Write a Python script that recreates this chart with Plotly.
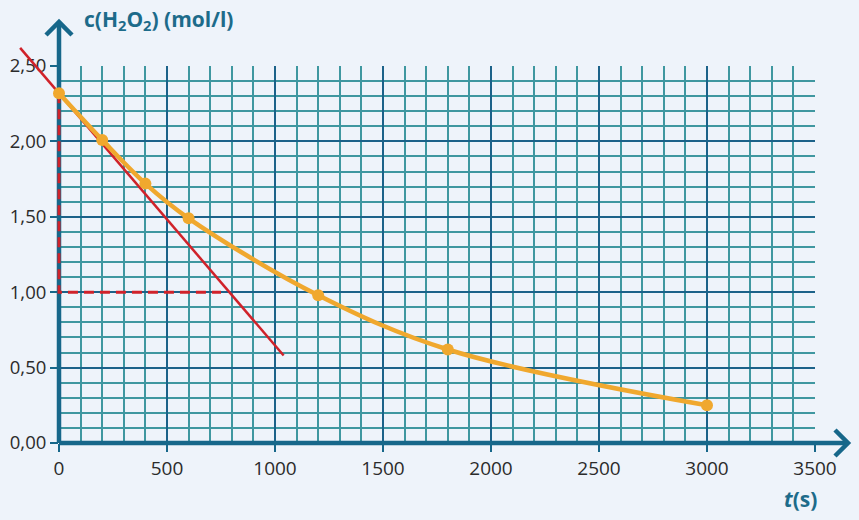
import plotly.graph_objects as go

# ---- data ----
t_s = [0, 200, 400, 600, 1200, 1800, 3000]
c_h2o2 = [2.32, 2.01, 1.72, 1.49, 0.98, 0.62, 0.25]

tangent_t = [-180, 1040]
tangent_c = [2.62, 0.58]

guide_t = [0, 0, 750]
guide_c = [2.32, 1.00, 1.00]

x_ticks = [0, 500, 1000, 1500, 2000, 2500, 3000, 3500]
x_labels = ["0", "500", "1000", "1500", "2000", "2500", "3000", "3500"]
y_ticks = [0, 0.5, 1.0, 1.5, 2.0, 2.5]
y_labels = ["0,00", "0,50", "1,00", "1,50", "2,00", "2,50"]

# ---- geometry ----
W, H = 859, 520
PX_X0, PX_X1 = 59, 815      # pixel of t=0 and t=3500
PX_Y0, PX_Y1 = 443, 66      # pixel of c=0 and c=2.5
T_MAX, C_MAX = 3500, 2.5
sx = (PX_X1 - PX_X0) / T_MAX   # px per second
sy = (PX_Y0 - PX_Y1) / C_MAX   # px per mol/l

x2_range = [-PX_X0 / sx, T_MAX + (W - PX_X1) / sx]
y2_range = [-(H - PX_Y0) / sy, C_MAX + PX_Y1 / sy]

AXIS = "#17678a"
MAJOR = "#1c6289"
MINOR = "#3f97a0"
ORANGE = "#f0a82e"
RED = "#d0222a"
BG = "#eef3fa"
FONT = "'Open Sans', Lato, sans-serif"

# arrow tips (in data units of overlay axes)
y_tip = (PX_Y0 - 22) / sy
x_tip = (848 - PX_X0) / sx
arm = 13

fig = go.Figure()

# empty trace so the grid subplot is rendered
fig.add_trace(go.Scatter(x=[], y=[], xaxis="x", yaxis="y", hoverinfo="skip"))

# axis lines with open arrowheads
fig.add_trace(go.Scatter(
    x=[0, 0], y=[0, y_tip], mode="lines",
    line=dict(color=AXIS, width=4.5), xaxis="x2", yaxis="y2", hoverinfo="skip"))
fig.add_trace(go.Scatter(
    x=[-arm / sx, 0, arm / sx], y=[y_tip - arm / sy, y_tip, y_tip - arm / sy], mode="lines",
    line=dict(color=AXIS, width=4.5), xaxis="x2", yaxis="y2", hoverinfo="skip"))
fig.add_trace(go.Scatter(
    x=[0, x_tip], y=[0, 0], mode="lines",
    line=dict(color=AXIS, width=4.5), xaxis="x2", yaxis="y2", hoverinfo="skip"))
fig.add_trace(go.Scatter(
    x=[x_tip - arm / sx, x_tip, x_tip - arm / sx], y=[arm / sy, 0, -arm / sy], mode="lines",
    line=dict(color=AXIS, width=4.5), xaxis="x2", yaxis="y2", hoverinfo="skip"))

# dashed guides
fig.add_trace(go.Scatter(
    x=guide_t, y=guide_c, mode="lines",
    line=dict(color=RED, width=3, dash="10px,6px"), xaxis="x2", yaxis="y2"))

# tangent
fig.add_trace(go.Scatter(
    x=tangent_t, y=tangent_c, mode="lines",
    line=dict(color=RED, width=2.5), xaxis="x2", yaxis="y2"))

# data curve
fig.add_trace(go.Scatter(
    x=t_s, y=c_h2o2, mode="lines+markers",
    line=dict(color=ORANGE, width=4.5, shape="spline", smoothing=1.0),
    marker=dict(color=ORANGE, size=12), xaxis="x2", yaxis="y2"))

fig.update_layout(
    width=W, height=H, autosize=False,
    margin=dict(l=0, r=0, t=0, b=0, autoexpand=False),
    paper_bgcolor=BG, plot_bgcolor="rgba(0,0,0,0)",
    showlegend=False,
    font=dict(family=FONT, color="#2b2b2b", size=16),
    xaxis=dict(
        domain=[PX_X0 / W, PX_X1 / W], range=[0, T_MAX], anchor="y", automargin=False,
        tickmode="array", tickvals=x_ticks, ticktext=x_labels,
        ticks="outside", ticklen=8, tickwidth=2, tickcolor=AXIS,
        showgrid=True, gridcolor=MAJOR, gridwidth=2,
        minor=dict(dtick=100, tick0=0, showgrid=True, gridcolor=MINOR, gridwidth=1.5),
        zeroline=False, showline=False, fixedrange=True,
        tickfont=dict(family=FONT, size=19, color="#2b2b2b"),
    ),
    yaxis=dict(
        domain=[(H - PX_Y0) / H, (H - PX_Y1) / H], range=[0, C_MAX], anchor="x", automargin=False,
        tickmode="array", tickvals=y_ticks, ticktext=y_labels,
        ticks="outside", ticklen=8, tickwidth=2, tickcolor=AXIS,
        showgrid=True, gridcolor=MAJOR, gridwidth=2,
        minor=dict(dtick=0.1, tick0=0, showgrid=True, gridcolor=MINOR, gridwidth=1.5),
        zeroline=False, showline=False, fixedrange=True,
        tickfont=dict(family=FONT, size=18.5, color="#2b2b2b"),
    ),
    xaxis2=dict(domain=[0, 1], range=x2_range, anchor="y2", visible=False, fixedrange=True),
    yaxis2=dict(domain=[0, 1], range=y2_range, anchor="x2", visible=False, fixedrange=True),
    annotations=[
        dict(text="<b>c(H<sub>2</sub>O<sub>2</sub>) (mol/l)</b>",
             xref="paper", yref="paper", x=82 / W, y=1 - 20 / H,
             xanchor="left", yanchor="middle", showarrow=False,
             font=dict(family=FONT, size=21, color="#1d6b8a")),
        dict(text="<b><i>t</i>(s)</b>",
             xref="paper", yref="paper", x=800 / W, y=1 - 499 / H,
             xanchor="center", yanchor="middle", showarrow=False,
             font=dict(family=FONT, size=21, color="#1d6b8a")),
    ],
)

fig.write_html("out.html", config={"displayModeBar": False},
               post_script="document.body.style.margin='0';")
